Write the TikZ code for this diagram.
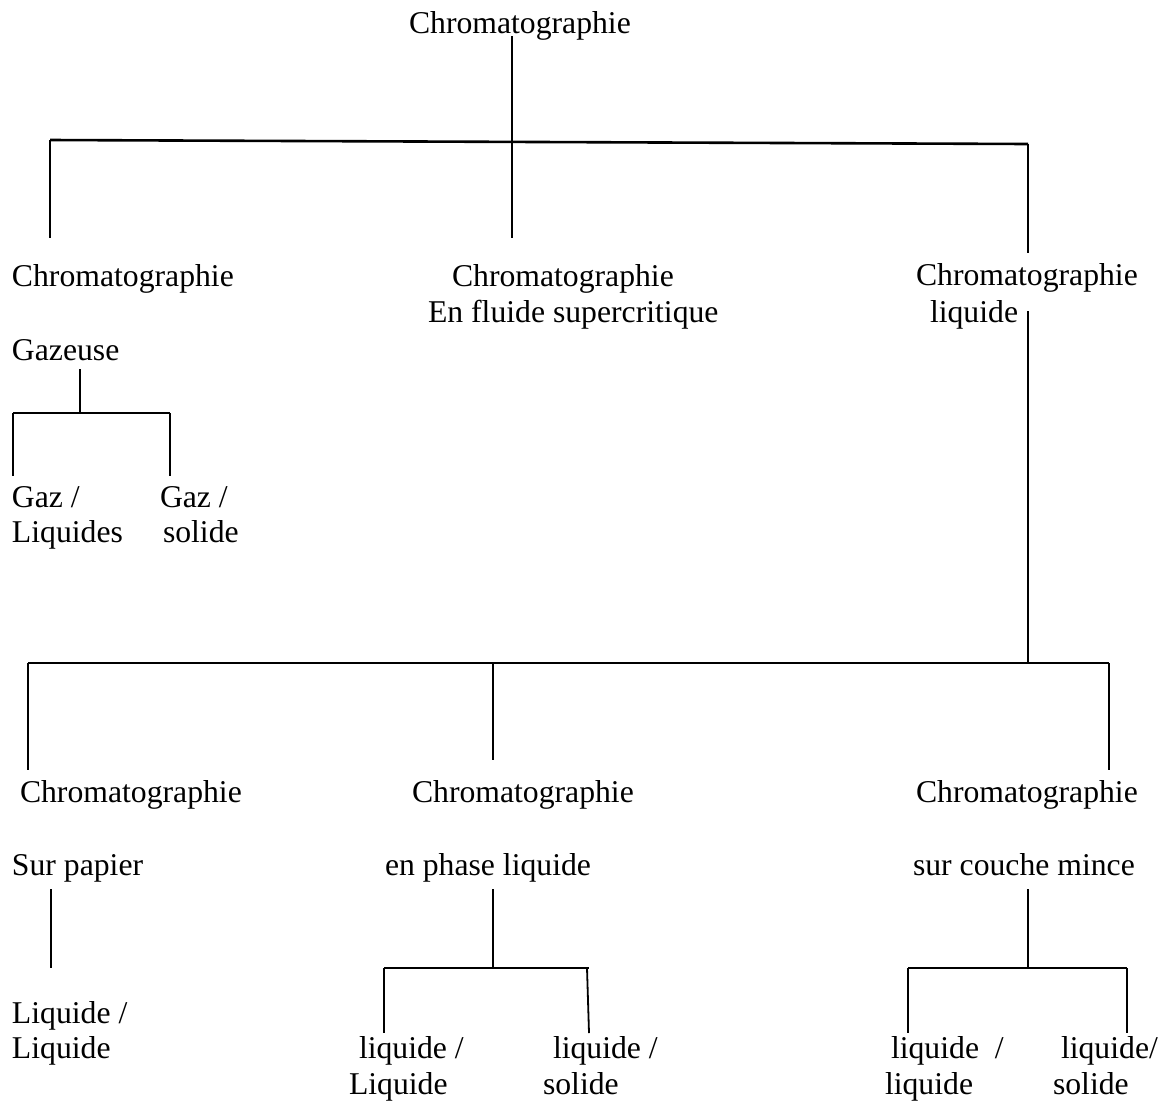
\documentclass[tikz,border=0pt]{standalone}
\usepackage{fontspec}
\setmainfont{Liberation Serif}
\begin{document}
\begin{tikzpicture}[x=1pt,y=-1pt,
  lbl/.style={anchor=base west,inner sep=0pt,outer sep=0pt,font=\fontsize{31.7}{37}\selectfont},
  thin/.style={line width=1.8pt,black},
  thick/.style={line width=2.6pt,black}]
\useasboundingbox[fill=white] (0,0) rectangle (1166,1101);
% labels
\node[lbl] (root) at (409,33) {Chromatographie};
\node[lbl] (cg1) at (12,286) {Chromatographie};
\node[lbl] (sfc1) at (452,286) {Chromatographie};
\node[lbl] (sfc2) at (428,322) {En fluide supercritique};
\node[lbl] (cl1) at (916,285) {Chromatographie};
\node[lbl] (cl2) at (930,322) {liquide};
\node[lbl] (gaz) at (12,360) {Gazeuse};
\node[lbl] (gl1) at (12,507) {Gaz /};
\node[lbl] (gl2) at (12,542) {Liquides};
\node[lbl] (gs1) at (160,507) {Gaz /};
\node[lbl] (gs2) at (163,542) {solide};
\node[lbl] (cp1) at (20,802) {Chromatographie};
\node[lbl] (cp2) at (12,875) {Sur papier};
\node[lbl] (cpl1) at (412,802) {Chromatographie};
\node[lbl] (cpl2) at (385,875) {en phase liquide};
\node[lbl] (ccm1) at (916,802) {Chromatographie};
\node[lbl] (ccm2) at (913,875) {sur couche mince};
\node[lbl] (ll1) at (12,1023) {Liquide /};
\node[lbl] (ll2) at (12,1058) {Liquide};
\node[lbl] (pl1) at (359,1058) {liquide /};
\node[lbl] (pl2) at (349,1094) {Liquide};
\node[lbl] (ps1) at (553,1058) {liquide /};
\node[lbl] (ps2) at (543,1094) {solide};
\node[lbl] (kl1) at (891,1058) {liquide\ \ /};
\node[lbl] (kl2) at (885,1094) {liquide};
\node[lbl] (ks1) at (1061,1058) {liquide/};
\node[lbl] (ks2) at (1053,1094) {solide};
% junction coordinates
\coordinate (r0) at (512,36);
\coordinate (r1) at (512,238);
\coordinate (hL) at (50,140);
\coordinate (hR) at (1028,144);
\coordinate (vL) at (50,238);
\coordinate (vR) at (1028,253);
\coordinate (lq0) at (1028,311);
\coordinate (lq1) at (1028,662);
\coordinate (bL) at (28,663);
\coordinate (bM) at (493,663);
\coordinate (bR) at (1109,663);
\coordinate (bLe) at (28,770);
\coordinate (bMe) at (493,760);
\coordinate (bRe) at (1109,770);
\coordinate (g0) at (80,369);
\coordinate (g1) at (80,413);
\coordinate (gL) at (13,413);
\coordinate (gR) at (170,413);
\coordinate (gLe) at (13,476);
\coordinate (gRe) at (170,476);
\coordinate (p0) at (51,889);
\coordinate (p1) at (51,968);
\coordinate (f0) at (493,889);
\coordinate (f1) at (493,968);
\coordinate (fL) at (384,968);
\coordinate (fR) at (589,968);
\coordinate (fRt) at (587,968);
\coordinate (fLe) at (384,1033);
\coordinate (fRe) at (589,1033);
\coordinate (c0) at (1028,889);
\coordinate (c1) at (1028,968);
\coordinate (cL) at (908,968);
\coordinate (cR) at (1127,968);
\coordinate (cLe) at (908,1033);
\coordinate (cRe) at (1127,1033);
% connectors
\draw[thin] (r0) -- (r1);
\draw[thick] (hL) -- (hR);
\draw[thin] (hL) -- (vL);
\draw[thin] (hR) -- (vR);
\draw[thin] (lq0) -- (lq1);
\draw[thick] (bL) -- (bR);
\draw[thin] (bL) -- (bLe);
\draw[thin] (bM) -- (bMe);
\draw[thin] (bR) -- (bRe);
\draw[thin] (g0) -- (g1);
\draw[thin] (gL) -- (gR);
\draw[thin] (gL) -- (gLe);
\draw[thin] (gR) -- (gRe);
\draw[thin] (p0) -- (p1);
\draw[thin] (f0) -- (f1);
\draw[thin] (fL) -- (fR);
\draw[thin] (fL) -- (fLe);
\draw[thin] (fRt) -- (fRe);
\draw[thin] (c0) -- (c1);
\draw[thin] (cL) -- (cR);
\draw[thin] (cL) -- (cLe);
\draw[thin] (cR) -- (cRe);
\end{tikzpicture}
\end{document}
